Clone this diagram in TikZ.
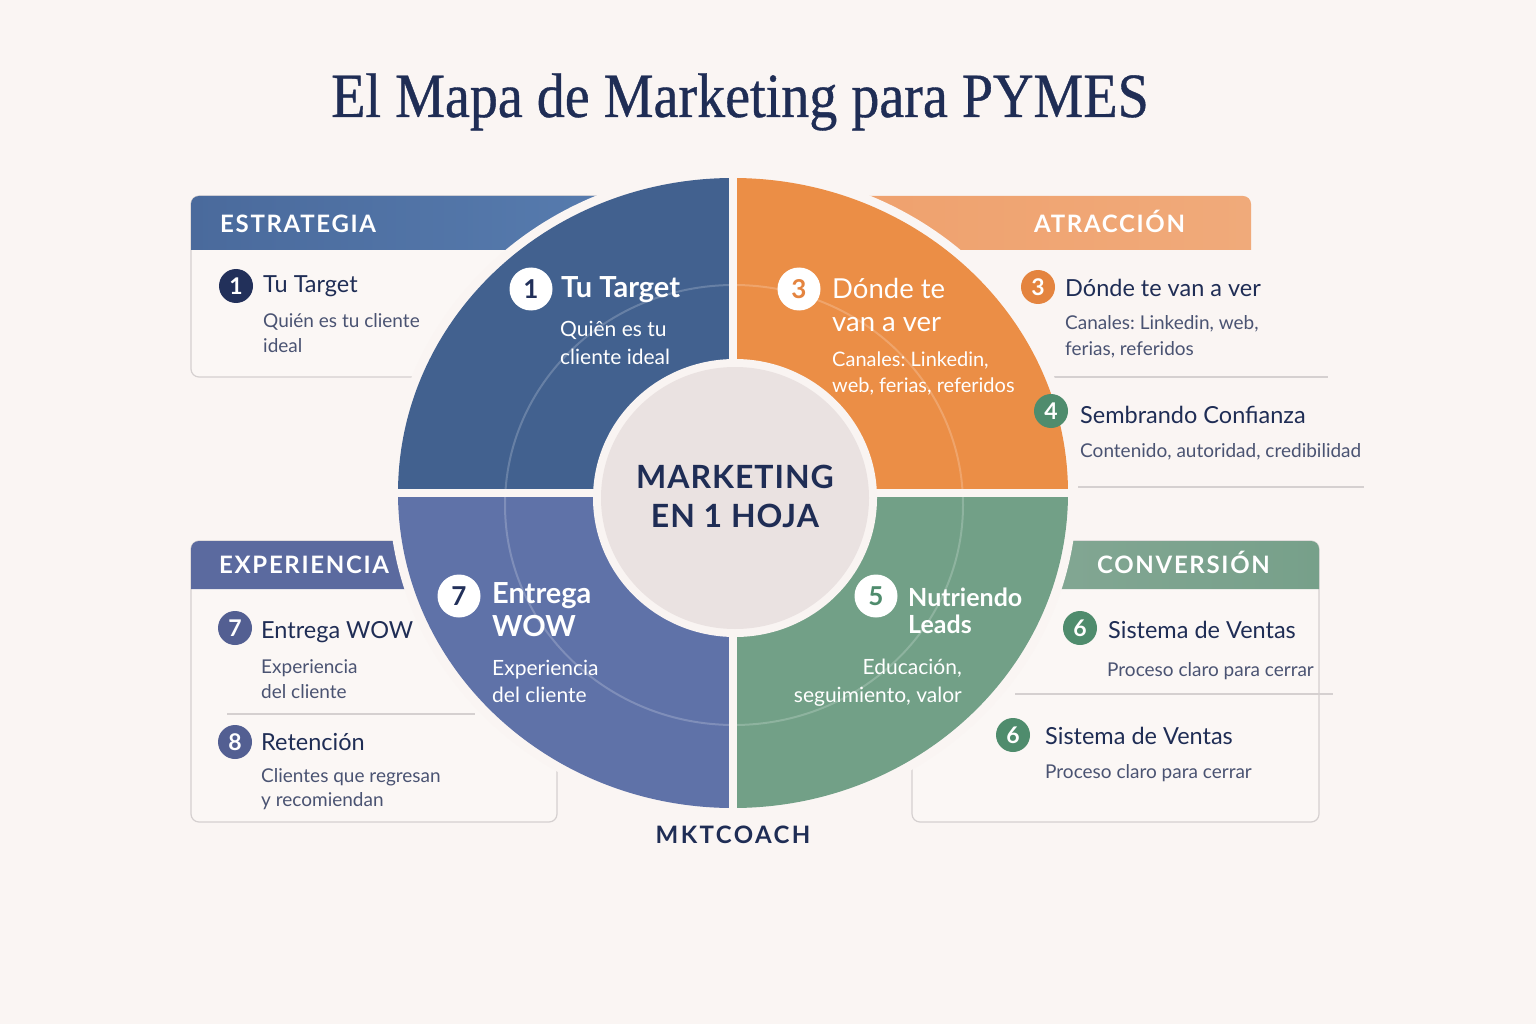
\documentclass[tikz,border=0pt]{standalone}
\usepackage{fontspec}
\setmainfont{Lato}
\newfontfamily\titlefont[FakeStretch=0.89,FakeBold=0.6]{Liberation Serif}
\newfontfamily\capsfont[LetterSpace=7]{Lato}
\usetikzlibrary{positioning}
\newcommand{\fsz}[2]{\fontsize{#1}{#2}\selectfont}
\frenchspacing
\definecolor{bgc}{HTML}{FAF5F3}
\definecolor{cardc}{HTML}{FBF7F5}
\definecolor{navy}{HTML}{1F2D55}
\definecolor{slate}{HTML}{4A5372}
\definecolor{sepline}{HTML}{D5D0D0}
\definecolor{qstrat}{HTML}{42618F}
\definecolor{qattr}{HTML}{EB8E46}
\definecolor{qconv}{HTML}{72A087}
\definecolor{qexp}{HTML}{5F72A8}
\definecolor{hstratA}{HTML}{4A6A9C}
\definecolor{hstratB}{HTML}{5A80B3}
\definecolor{hattrA}{HTML}{F0AA7A}
\definecolor{hattrB}{HTML}{EFA06C}
\definecolor{hexp}{HTML}{5B6A9F}
\definecolor{hconvA}{HTML}{8EAD9C}
\definecolor{hconvB}{HTML}{77A08A}
\definecolor{hub}{HTML}{EAE2E1}
\definecolor{hubring}{HTML}{F9F4F2}
\definecolor{cnavy}{HTML}{22305A}
\definecolor{corange}{HTML}{E4843F}
\definecolor{cgreen}{HTML}{4F8C6D}
\definecolor{cviolet}{HTML}{535F92}
\begin{document}
\begin{tikzpicture}[x=1pt,y=-1pt,
  card/.style={draw=sepline,line width=1.2pt,fill=cardc,rounded corners=8pt},
  sep/.style={draw=sepline,line width=1.2pt},
  tag/.style={anchor=base west,inner sep=0pt,text=white,font=\capsfont\bfseries\fsz{24}{30}},
  num/.style={circle,inner sep=0pt,minimum size=34pt,text=white,font=\bfseries\fsz{23}{23}},
  wnum/.style={circle,fill=white,inner sep=0pt,minimum size=43pt,font=\bfseries\fsz{26}{26}},
  head/.style={anchor=base west,inner sep=0pt,text=navy,font=\fsz{23.5}{30}},
  desc/.style={anchor=base west,inner sep=0pt,text=slate,align=left,font=\fsz{19}{25.6}},
  whead/.style={anchor=base west,inner sep=0pt,text=white,align=left,font=\bfseries\fsz{29}{33.5}},
  wdesc/.style={anchor=base west,inner sep=0pt,text=white,align=left,font=\fsz{21}{28.4}}]
\fill[bgc] (0,0) rectangle (1536,1024);
\useasboundingbox (0,0) rectangle (1536,1024);

\node[anchor=base,inner sep=0pt,text=navy,font=\titlefont\fsz{63}{70}] (title) at (740,117) {El Mapa de Marketing para PYMES};

% cards and bands
\draw[card] (191,196) rectangle (720,377);
\shade[left color=hstratA,right color=hstratB] (191,250) [rounded corners=8pt] -- (191,196) -- (720,196) [sharp corners] -- (720,250) -- cycle;
\shade[left color=hattrB,right color=hattrA] (800,250) -- (800,196) [rounded corners=8pt] -- (1251,196) [sharp corners] -- (1251,250) -- cycle;
\draw[card] (191,541) rectangle (557,822);
\fill[hexp] (191,589) [rounded corners=8pt] -- (191,541) -- (700,541) [sharp corners] -- (700,589) -- cycle;
\draw[card] (912,541) rectangle (1319,822);
\shade[left color=hconvA,right color=hconvB] (760,589) -- (760,541) [rounded corners=8pt] -- (1319,541) [sharp corners] -- (1319,589) -- cycle;
\draw[sep] (1046,377) -- (1328,377);
\draw[sep] (1078,487) -- (1364,487);
\draw[sep] (227,714) -- (475,714);
\draw[sep] (1015,694) -- (1333,694);

% wheel
\fill[bgc] (733,493) ellipse [x radius=344,y radius=324];
\fill[qstrat] (733,493) -- (398,493) arc[start angle=180,end angle=270,x radius=335,y radius=315] -- cycle;
\fill[qattr] (733,493) -- (733,178) arc[start angle=270,end angle=360,x radius=335,y radius=315] -- cycle;
\fill[qconv] (733,493) -- (1068,493) arc[start angle=0,end angle=90,x radius=335,y radius=315] -- cycle;
\fill[qexp] (733,493) -- (733,808) arc[start angle=90,end angle=180,x radius=335,y radius=315] -- cycle;
\draw[white,opacity=0.2,line width=2pt] (734,505) ellipse [x radius=229,y radius=220];
\draw[bgc,line width=8pt] (733,170) -- (733,816);
\draw[bgc,line width=8pt] (390,493) -- (1076,493);
\fill[hubring] (735,498) ellipse [x radius=142,y radius=139];
\fill[hub] (735,498) ellipse [x radius=134,y radius=131];

% section tags
\node[tag] (tagstrat) at (220,233) {ESTRATEGIA};
\node[tag] (tagattr) at (1034,233) {ATRACCIÓN};
\node[tag] (tagexp) at (219,573) {EXPERIENCIA};
\node[tag] (tagconv) at (1097,573) {CONVERSIÓN};

% left and right lists
\node[num,fill=cnavy] (n1) at (236,286) {1};
\node[head] (t1) at (263,293) {Tu Target};
\node[desc] (d1) at (263,352.6) {Quién es tu cliente\\ideal};
\node[num,fill=corange] (n3) at (1038,287) {3};
\node[head] (t3) at (1065,296) {Dónde te van a ver};
\node[desc,font=\fsz{19}{26}] (d3) at (1065,355) {Canales: Linkedin, web,\\ferias, referidos};
\node[num,fill=cgreen] (n4) at (1051,411) {4};
\node[head] (t4) at (1080,423) {Sembrando Confianza};
\node[desc] (d4) at (1080,457) {Contenido, autoridad, credibilidad};
\node[num,fill=cviolet] (n7) at (235,628) {7};
\node[head] (t7) at (261,638) {Entrega WOW};
\node[desc] (d7) at (261,698.6) {Experiencia\\del cliente};
\node[num,fill=cviolet] (n8) at (235,742) {8};
\node[head] (t8) at (261,750) {Retención};
\node[desc,font=\fsz{19}{24.5}] (d8) at (261,806.5) {Clientes que regresan\\y recomiendan};
\node[num,fill=cgreen] (n6a) at (1080,628) {6};
\node[head] (t6a) at (1108,638) {Sistema de Ventas};
\node[desc] (d6a) at (1107,676) {Proceso claro para cerrar};
\node[num,fill=cgreen] (n6b) at (1013,735) {6};
\node[head] (t6b) at (1045,744) {Sistema de Ventas};
\node[desc] (d6b) at (1045,778) {Proceso claro para cerrar};

% wheel labels
\node[wnum,text=cnavy] (w1) at (531,289) {1};
\node[whead] (wt1) at (561,298) {Tu Target};
\node[wdesc] (wd1) at (560,364.4) {Quiên es tu\\cliente ideal};
\node[wnum,text=corange] (w3) at (799,289) {3};
\node[whead,font=\fsz{27.5}{33}] (wt3) at (832,331) {Dónde te\\van a ver};
\node[wdesc,font=\fsz{20}{26.5}] (wd3) at (832,392.5) {Canales: Linkedin,\\web, ferias, referidos};
\node[wnum,text=cnavy] (w7) at (459,596) {7};
\node[whead] (wt7) at (492,636.5) {Entrega\\WOW};
\node[wdesc,font=\fsz{21}{27.4}] (wd7) at (492,702.4) {Experiencia\\del cliente};
\node[wnum,text=cgreen] (w5) at (876,596) {5};
\node[whead,font=\bfseries\fsz{25}{27.4}] (wt5) at (908,633.4) {Nutriendo\\Leads};
\node[wdesc,anchor=base east,align=right] (wd5) at (962,702.4) {Educación,\\seguimiento, valor};

% hub and brand
\node[anchor=base,inner sep=0pt,align=center,text=navy,font=\capsfont\addfontfeature{LetterSpace=3}\bfseries\fsz{32}{39}] (hubtxt) at (735,527) {MARKETING\\EN 1 HOJA};
\node[anchor=base,inner sep=0pt,text=navy,font=\capsfont\addfontfeature{LetterSpace=10}\bfseries\fsz{24}{28}] (brand) at (733,843) {MKTCOACH};
\end{tikzpicture}
\end{document}
